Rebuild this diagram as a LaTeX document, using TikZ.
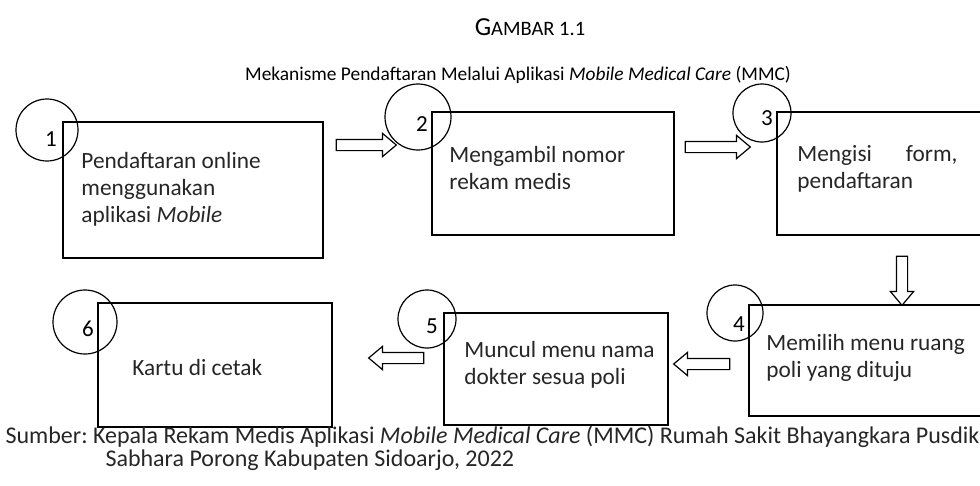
\documentclass[tikz,border=0pt]{standalone}
\usepackage{fontspec}
\setmainfont{Carlito}
\frenchspacing
\usetikzlibrary{shapes.arrows,positioning}
\tikzset{
	kotak/.style={draw,line width=1.5pt,inner sep=0pt},
	isi/.style={font=\fontsize{23.3}{27}\selectfont,text=black!85,align=left,inner sep=0pt},
	angka/.style={font=\fontsize{23}{24}\selectfont,inner sep=0pt},
	panah/.style={single arrow,draw,line width=1.2pt,inner sep=5pt,
		single arrow head extend=6pt,single arrow tip angle=80,minimum width=22pt},
	lingkar/.style={line width=1.2pt}
}
\begin{document}
\begin{tikzpicture}[x=1pt,y=-1pt]
			\useasboundingbox (0,0) rectangle (980,485);
			%judul
			\node[font=\fontsize{26}{28}\selectfont] (judul) at (530,27) {G{\fontsize{20.5}{22}\selectfont AMBAR 1.1}};
			\node[font=\fontsize{19.4}{22}\selectfont] (subjudul) at (518,75) {Mekanisme Pendaftaran Melalui Aplikasi \textit{Mobile Medical Care} (MMC)};
			%kotak baris atas
			\node[kotak,minimum width=260pt,minimum height=136pt] (K1) at (193,190) {};
			\node[kotak,minimum width=242pt,minimum height=123pt] (K2) at (553,173.5) {};
			\node[kotak,minimum width=218pt,minimum height=123pt] (K3) at (886,173.5) {};
			%kotak baris bawah
			\node[kotak,minimum width=250pt,minimum height=111pt] (K4) at (874,360.5) {};
			\node[kotak,minimum width=224pt,minimum height=112pt] (K5) at (556,369) {};
			\node[kotak,minimum width=234pt,minimum height=124pt] (K6) at (215,365) {};
			%teks
			\node[isi,anchor=west,right=19pt of K1.west,yshift=1pt] (T1) {Pendaftaran online\\menggunakan\\aplikasi \textit{Mobile}};
			\node[isi,anchor=west,right=18pt of K2.west,yshift=6pt] (T2) {Mengambil nomor\\rekam medis};
			\node[isi,anchor=west,right=21pt of K3.west,yshift=5pt,text width=160pt,align=justify] (T3) {Mengisi form,\linebreak pendaftaran};
			\node[isi,anchor=west,right=18pt of K4.west,yshift=3pt] (T4) {Memilih menu ruang\\poli yang dituju};
			\node[isi,anchor=west,right=21pt of K5.west,yshift=4pt] (T5) {Muncul menu nama\\dokter sesua poli};
			\node[isi,anchor=west,right=35pt of K6.west,yshift=-2pt] (T6) {Kartu di cetak};
			%lingkaran nomor
			\coordinate (C1) at (47,130);
			\coordinate (C2) at (418,117);
			\coordinate (C3) at (762,113);
			\coordinate (C4) at (735,313);
			\coordinate (C5) at (427,319);
			\coordinate (C6) at (85,322);
			\draw[lingkar] (C1) circle [radius=31];
			\draw[lingkar] (C2) circle [radius=33];
			\draw[lingkar] (C3) circle [radius=29];
			\draw[lingkar] (C4) circle [radius=28];
			\draw[lingkar] (C5) circle [radius=29];
			\draw[lingkar] (C6) circle [radius=32];
			\node[angka] (N1) at ([shift={(4,9)}]C1) {1};
			\node[angka] (N2) at ([shift={(4,7)}]C2) {2};
			\node[angka] (N3) at ([shift={(5,5)}]C3) {3};
			\node[angka] (N4) at ([shift={(4,11)}]C4) {4};
			\node[angka] (N5) at ([shift={(5,7)}]C5) {5};
			\node[angka] (N6) at ([shift={(3,7)}]C6) {6};
			%panah blok
			\node[panah,minimum height=60pt] (P12) at (363,145) {};
			\node[panah,minimum height=65pt] (P23) at (714.5,147) {};
			\node[panah,minimum height=49pt,shape border rotate=270] (P34) at (902,277.5) {};
			\node[panah,minimum height=56pt,shape border rotate=180] (P45) at (705,364) {};
			\node[panah,minimum height=55pt,shape border rotate=180] (P56) at (399.5,358) {};
			%sumber
			\node[font=\fontsize{24}{23}\selectfont,text=black!85,align=left,anchor=west] (sumber) at (2,448)
				{Sumber: Kepala Rekam Medis Aplikasi \textit{Mobile Medical Care} (MMC) Rumah Sakit Bhayangkara Pusdik\\
				\hspace*{100pt}Sabhara Porong Kabupaten Sidoarjo, 2022};
		\end{tikzpicture}
\end{document}
